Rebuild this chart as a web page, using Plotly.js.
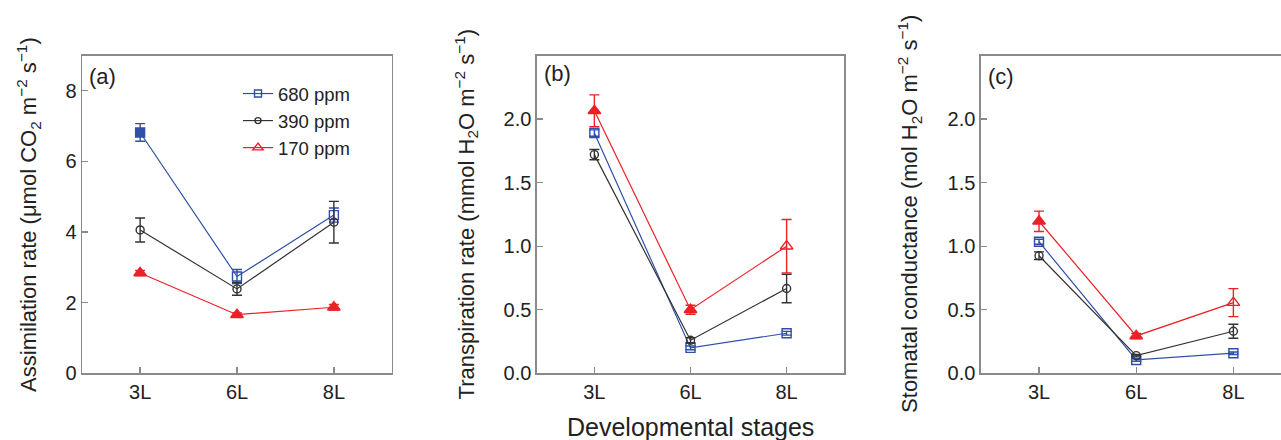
<!DOCTYPE html>
<html><head><meta charset="utf-8">
<script src="https://cdn.plot.ly/plotly-3.0.1.min.js"></script>
<style>html,body{margin:0;padding:0;background:#fff}#chart{width:1281px;height:440px}</style>
</head><body><div id="chart"></div>
<script>
// ---------- data ----------
const stages = ['3L', '6L', '8L'];
const seriesNames = ['680 ppm', '390 ppm', '170 ppm'];
const ticksA = [0, 2, 4, 6, 8];
const ticksBC = [0, 0.5, 1.0, 1.5, 2.0];

// (a) Assimilation rate
const assim680 = [6.82, 2.74, 4.48];
const assim680Err = [0.25, 0.20, 0.20];
const assim390 = [4.06, 2.39, 4.28];
const assim390Err = [0.34, 0.18, 0.59];
const assim170 = [2.84, 1.66, 1.87];
const assim170Err = [0.07, 0.05, 0.08];
const assim680Filled = [1, 0, 0];
const assim390Filled = [0, 0, 0];
const assim170Filled = [1, 1, 1];

// (b) Transpiration rate
const trans680 = [1.89, 0.20, 0.315];
const trans680Err = [0.025, 0.015, 0.015];
const trans390 = [1.72, 0.26, 0.667];
const trans390Err = [0.04, 0.02, 0.112];
const trans170 = [2.065, 0.50, 1.00];
const trans170Err = [0.125, 0.035, 0.21];
const trans680Filled = [0, 0, 0];
const trans390Filled = [0, 0, 0];
const trans170Filled = [1, 1, 0];

// (c) Stomatal conductance
const cond680 = [1.035, 0.105, 0.158];
const cond680Err = [0.02, 0.01, 0.01];
const cond390 = [0.925, 0.139, 0.331];
const cond390Err = [0.03, 0.01, 0.055];
const cond170 = [1.196, 0.294, 0.556];
const cond170Err = [0.08, 0.02, 0.11];
const cond680Filled = [0, 0, 0];
const cond390Filled = [0, 0, 0];
const cond170Filled = [1, 1, 0];

// ---------- style ----------
const FONT = 'Arial, "Liberation Sans", Helvetica, sans-serif';
const colors = ['#2f4fa8', '#333333', '#ec2027'];
const symbols = ['square', 'circle', 'triangle-up'];
const sizes = [9, 8, 11];
const W = 1281, H = 440;
const px = v => v / W, py = v => 1 - v / H;

const panels = [
  {xa: 'x', ya: 'y', data: [[assim680, assim680Err, assim680Filled], [assim390, assim390Err, assim390Filled], [assim170, assim170Err, assim170Filled]]},
  {xa: 'x2', ya: 'y2', data: [[trans680, trans680Err, trans680Filled], [trans390, trans390Err, trans390Filled], [trans170, trans170Err, trans170Filled]]},
  {xa: 'x3', ya: 'y3', data: [[cond680, cond680Err, cond680Filled], [cond390, cond390Err, cond390Filled], [cond170, cond170Err, cond170Filled]]}
];

const traces = [];
panels.forEach(p => {
  p.data.forEach((s, i) => {
    traces.push({
      type: 'scatter', mode: 'lines+markers', x: stages, y: s[0],
      xaxis: p.xa, yaxis: p.ya, showlegend: false, name: seriesNames[i],
      line: {color: colors[i], width: 1.2},
      marker: {
        symbol: s[2].map(f => f ? symbols[i] : symbols[i] + '-open'),
        size: sizes[i], color: colors[i], line: {color: colors[i], width: 1.4}
      },
      error_y: {type: 'data', array: s[1], visible: true, color: colors[i], thickness: 1.4, width: 5},
      cliponaxis: false
    });
  });
});
// legend entries
seriesNames.forEach((n, i) => {
  traces.push({
    type: 'scatter', mode: 'lines+markers', x: [null], y: [null], xaxis: 'x', yaxis: 'y',
    name: n, showlegend: true,
    line: {color: colors[i], width: 1.2},
    marker: {symbol: symbols[i] + '-open', size: sizes[i] - 2, color: colors[i], line: {color: colors[i], width: 1.4}}
  });
});

const yDom = [py(373.3), py(55.5)];
function xAxis(dom, range, mirror) {
  return {domain: dom, range: range, type: 'category', categoryorder: 'array', categoryarray: stages,
    showline: true, mirror: mirror, linecolor: '#8a8a8a', linewidth: 1.3,
    ticks: 'inside', ticklen: 6, tickwidth: 1.3, tickcolor: '#8a8a8a',
    tickfont: {family: FONT, size: 20, color: '#222'}, showgrid: false, zeroline: false,
    fixedrange: true, automargin: false};
}
function yAxis(anchor, range, tv, fmt, mirror) {
  return {domain: yDom, anchor: anchor, range: range, tickmode: 'array', tickvals: tv, tickformat: fmt,
    showline: true, mirror: mirror, linecolor: '#8a8a8a', linewidth: 1.3,
    ticks: 'inside', ticklen: 6, tickwidth: 1.3, tickcolor: '#8a8a8a',
    tickfont: {family: FONT, size: 20, color: '#222'}, showgrid: false, zeroline: false,
    fixedrange: true, automargin: false};
}

const titleFont = {family: FONT, size: 22, color: '#222'};
const layout = {
  width: W, height: H, margin: {l: 0, r: 0, t: 0, b: 0},
  paper_bgcolor: '#fff', plot_bgcolor: '#fff',
  font: {family: FONT, color: '#222'},
  xaxis: Object.assign(xAxis([px(82), px(392)], [-0.6, 2.6], true), {anchor: 'y'}),
  yaxis: yAxis('x', [0, 9], ticksA, 'd', true),
  xaxis2: Object.assign(xAxis([px(536.7), px(844.3)], [-0.6, 2.6], true), {anchor: 'y2'}),
  yaxis2: yAxis('x2', [0, 2.5], ticksBC, '.1f', true),
  xaxis3: Object.assign(xAxis([px(980.7), 1], [-0.6, 2.49], true), {anchor: 'y3'}),
  yaxis3: yAxis('x3', [0, 2.5], ticksBC, '.1f', false),
  showlegend: true,
  legend: {x: px(238), y: py(75), xanchor: 'left', yanchor: 'top', bgcolor: 'rgba(0,0,0,0)',
    font: {family: FONT, size: 18.5, color: '#222'}, tracegroupgap: 0, itemwidth: 30},
  annotations: [
    {text: 'Assimilation rate (μmol CO<sub>2</sub> m<sup>−2</sup> s<sup>−1</sup>)', textangle: -90,
      xref: 'paper', yref: 'paper', x: px(28.5), y: (yDom[0] + yDom[1]) / 2, xanchor: 'center', yanchor: 'middle', showarrow: false, font: titleFont},
    {text: 'Transpiration rate (mmol H<sub>2</sub>O m<sup>−2</sup> s<sup>−1</sup>)', textangle: -90,
      xref: 'paper', yref: 'paper', x: px(466), y: (yDom[0] + yDom[1]) / 2, xanchor: 'center', yanchor: 'middle', showarrow: false, font: titleFont},
    {text: 'Stomatal conductance (mol H<sub>2</sub>O m<sup>−2</sup> s<sup>−1</sup>)', textangle: -90,
      xref: 'paper', yref: 'paper', x: px(909.5), y: (yDom[0] + yDom[1]) / 2, xanchor: 'center', yanchor: 'middle', showarrow: false, font: titleFont},
    {text: 'Developmental stages', xref: 'paper', yref: 'paper', x: px(690.5), y: py(427), xanchor: 'center', yanchor: 'middle',
      showarrow: false, font: {family: FONT, size: 25, color: '#222'}},
    {text: '(a)', xref: 'paper', yref: 'paper', x: px(87), y: py(62), xanchor: 'left', yanchor: 'top', showarrow: false, font: titleFont},
    {text: '(b)', xref: 'paper', yref: 'paper', x: px(542), y: py(59), xanchor: 'left', yanchor: 'top', showarrow: false, font: titleFont},
    {text: '(c)', xref: 'paper', yref: 'paper', x: px(986), y: py(62), xanchor: 'left', yanchor: 'top', showarrow: false, font: titleFont}
  ]
};

Plotly.newPlot('chart', traces, layout, {staticPlot: true, displayModeBar: false});
</script>
</body></html>
